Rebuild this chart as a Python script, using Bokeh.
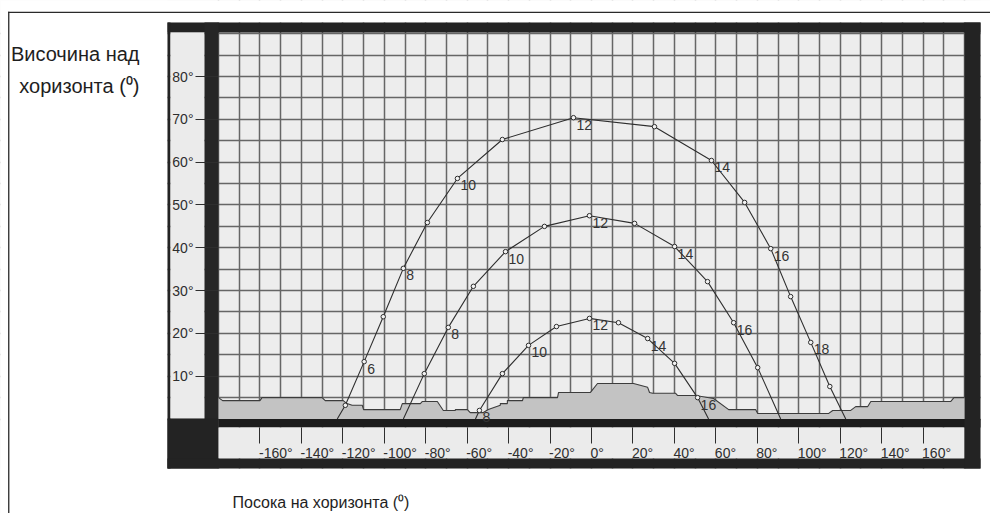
from bokeh.plotting import figure
from bokeh.models import Range1d, FixedTicker, BoxAnnotation, Label, LinearAxis, Grid
from bokeh.core.properties import value
from bokeh.embed import file_html
from bokeh.resources import INLINE

# ---------------- data ----------------
x_ticks = [-160, -140, -120, -100, -80, -60, -40, -20, 0, 20, 40, 60, 80, 100, 120, 140, 160]
x_tick_labels = ["-160°", "-140°", "-120°", "-100°", "-80°", "-60°", "-40°", "-20°", "0°",
                 "20°", "40°", "60°", "80°", "100°", "120°", "140°", "160°"]
y_ticks = [10, 20, 30, 40, 50, 60, 70, 80]
y_tick_labels = ["10°", "20°", "30°", "40°", "50°", "60°", "70°", "80°"]

y_title_lines = ["Височина над", "хоризонта (⁰)"]
x_title = "Посока на хоризонта (⁰)"

# summer solstice path (hour, azimuth, altitude)
summer_hours = [5, 6, 7, 8, 9, 10, 11, 12, 13, 14, 15, 16, 17, 18, 19]
summer_az = [-118.8, -109.7, -100.5, -90.8, -79.2, -64.7, -43.0, -8.7, 30.4, 57.9, 73.9, 86.5, 96.1, 105.8, 115.0]
summer_alt = [3.2, 13.4, 23.9, 35.2, 45.9, 56.2, 65.3, 70.4, 68.3, 60.4, 50.6, 39.8, 28.6, 17.9, 7.6]
summer_rise_set_az = [-122.7, 122.7]

# equinox path
equinox_hours = [7, 8, 9, 10, 11, 12, 13, 14, 15, 16, 17]
equinox_az = [-80.7, -69.1, -57.0, -41.5, -22.7, -1.0, 20.8, 40.1, 56.0, 68.6, 80.2]
equinox_alt = [10.6, 21.4, 31.0, 39.1, 45.0, 47.5, 45.7, 40.3, 32.1, 22.5, 12.0]
equinox_rise_set_az = [-90.8, 91.3]

# winter solstice path
winter_hours = [8, 9, 10, 11, 12, 13, 14, 15, 16]
winter_az = [-54.1, -43.0, -30.4, -16.9, -1.0, 13.0, 27.1, 40.1, 51.2]
winter_alt = [2.0, 10.6, 17.2, 21.6, 23.5, 22.5, 18.8, 13.0, 5.0]
winter_rise_set_az = [-56.0, 56.5]

# horizon profile
horizon_az = [-180, -178, -160, -159, -130, -128.5, -119.8, -118, -115.5, -110.6, -110, -92.3,
              -91.3, -82.6, -81.6, -74.4, -71.5, -65.7, -65.7, -59.9, -58.5, -52.2, -49.8, -44.0,
              -44.0, -40.6, -40.6, -33.3, -32.9, -16.4, -15.9, -0.5, 2.9, 20.3, 27.1, 28.0, 29.5,
              40.6, 41.5, 50.2, 58.9, 66.2, 79.2, 80.2, 114.5, 116.4, 125.1, 127.5, 133.3, 134.8,
              173.4, 174.9, 180]
horizon_alt = [5.0, 4.3, 4.3, 5.0, 5.0, 4.3, 4.3, 3.6, 3.2, 3.2, 2.2, 2.2,
               3.6, 3.6, 4.1, 4.1, 2.0, 2.0, 2.2, 2.2, 1.5, 1.5, 2.2, 3.2,
               3.6, 3.6, 4.3, 4.3, 5.0, 5.0, 6.2, 6.2, 8.3, 8.3, 7.4, 6.2, 6.0,
               6.0, 5.5, 5.5, 4.8, 2.2, 2.2, 1.3, 1.3, 2.0, 2.0, 2.9, 2.9, 4.1,
               4.1, 5.0, 5.0]

# ---------------- layout (canvas pixels) ----------------
W, H = 990, 513
PL, PR, PT, PB = 218, 964, 32, 418.5       # plot-area edges on the canvas
AZ0, AZ1, ALT0, ALT1 = -180, 180, 0, 90.3   # plot-area extent in data units
px = (PR - PL) / (AZ1 - AZ0)
py = (PB - PT) / (ALT1 - ALT0)
x_range = Range1d(AZ0 - PL / px, AZ1 + (W - PR) / px)
y_range = Range1d(ALT0 - (H - PB) / py, ALT1 + PT / py)

FONT = "Liberation Sans"
INK = "#2e2e2e"
LIGHT = "#ebebeb"

p = figure(width=W, height=H, output_backend="svg", toolbar_location=None, title=None,
           x_range=x_range, y_range=y_range, x_axis_location=None, y_axis_location=None,
           min_border=0, background_fill_color="#ededed", border_fill_color="white")
p.outline_line_color = None

# ---- axes (drawn at the plot-area edges) ----
def label_center(tick, text):
    char_w = {"-": 4.7, "°": 5.6}
    w = sum(char_w.get(c, 7.8) for c in text)
    return round(tick + (w / 2.0 - 1.0) / px, 3)

STRIP_TOP = 427
centers = [label_center(t, s) for t, s in zip(x_ticks, x_tick_labels)]
xa = LinearAxis(fixed_location=round(ALT0 - (STRIP_TOP - PB) / py, 4))
xa.ticker = FixedTicker(ticks=centers, minor_ticks=x_ticks)
xa.major_label_overrides = {c: s for c, s in zip(centers, x_tick_labels)}
xa.major_tick_out = 0
xa.major_tick_in = 0
xa.major_tick_line_color = None
xa.minor_tick_out = 16
xa.minor_tick_in = 0
xa.minor_tick_line_color = INK
xa.minor_tick_line_width = 1
xa.axis_line_color = None
xa.major_label_standoff = 1
xa.major_label_text_font = FONT
xa.major_label_text_font_size = "14px"
xa.major_label_text_color = INK
p.add_layout(xa, "below")

ya = LinearAxis(fixed_location=AZ0)
ya.ticker = FixedTicker(ticks=y_ticks, minor_ticks=[])
ya.major_label_overrides = {t: s for t, s in zip(y_ticks, y_tick_labels)}
ya.major_tick_out = 23
ya.major_tick_in = 0
ya.major_tick_line_color = INK
ya.axis_line_color = None
ya.major_label_standoff = 2
ya.major_label_text_font = FONT
ya.major_label_text_font_size = "14px"
ya.major_label_text_color = INK
p.add_layout(ya, "left")

# ---- grid: 10 deg azimuth, 5 deg altitude ----
xg = Grid(dimension=0, ticker=FixedTicker(ticks=list(range(-180, 181, 10))))
yg = Grid(dimension=1, ticker=FixedTicker(ticks=list(range(0, 91, 5))))
for g in (xg, yg):
    g.grid_line_color = "#666666"
    g.grid_line_width = 1.5
    g.grid_line_alpha = 1.0

# ---- panel masks (canvas units), drawn over the grid overflow ----
def cbox(l, r, t, b, color, level="underlay"):
    return BoxAnnotation(left=l, right=r, top=t, bottom=b,
                         left_units="canvas", right_units="canvas",
                         top_units="canvas", bottom_units="canvas",
                         fill_color=color, fill_alpha=1,
                         line_color=None, level=level)

DARK = "#232323"
masks = [
    cbox(-10, W + 10, -10, 22, "white"),
    cbox(-10, 167, -10, H + 10, "white"),
    cbox(980, W + 10, -10, H + 10, "white"),
    cbox(-10, W + 10, 468, H + 10, "white"),
    cbox(167, 980, 22, 32, DARK),
    cbox(167, 170, 22, 468, DARK),
    cbox(170, 204, 32, 418, LIGHT),
    cbox(204, 218, 22, 419, "#262626"),
    cbox(167, 218, 418, 468, DARK),
    cbox(218, 980, PB, STRIP_TOP, "#1c1c1c"),
    cbox(218, PR, STRIP_TOP, 458, LIGHT),
    cbox(167, 980, 458, 468, DARK),
    cbox(PR, 980, 22, 468, DARK),
]
outer_lines = [
    cbox(7.6, 8.9, 11.2, H + 10, "#2a2a2a", level="annotation"),
    cbox(7.6, W + 10, 11.2, 12.5, "#2a2a2a", level="annotation"),
]
p.center = [xg, yg] + masks + outer_lines

# ---- horizon ----
p.varea(x=horizon_az, y1=0, y2=horizon_alt, fill_color="#c3c3c3")
p.line(horizon_az, horizon_alt, line_color="#3c3c3c", line_width=1.1)

# ---- sun paths ----
def sun_path(hours, az, alt, rise_set):
    xs = [rise_set[0]] + az + [rise_set[1]]
    ys = [0] + alt + [0]
    p.line(xs, ys, line_color=INK, line_width=1.1)
    p.scatter(az, alt, size=4.5, marker="circle", line_color=INK, fill_color="#f2f2f2", line_width=1)
    lab_x = [a for h, a in zip(hours, az) if h % 2 == 0]
    lab_y = [b for h, b in zip(hours, alt) if h % 2 == 0]
    lab_t = [str(h) for h in hours if h % 2 == 0]
    p.text(x=lab_x, y=lab_y, text=lab_t, x_offset=3, y_offset=2,
           text_align="left", text_baseline="top", text_font=value(FONT),
           text_font_size="14px", text_color="#333333")

sun_path(summer_hours, summer_az, summer_alt, summer_rise_set_az)
sun_path(equinox_hours, equinox_az, equinox_alt, equinox_rise_set_az)
sun_path(winter_hours, winter_az, winter_alt, winter_rise_set_az)

# ---- titles ----
p.add_layout(Label(x=139, y=53, x_units="canvas", y_units="canvas", text=y_title_lines[0],
                   text_align="right", text_baseline="alphabetic", text_font=FONT,
                   text_font_size="20px", text_color="#1e1e1e"))
p.add_layout(Label(x=139, y=85, x_units="canvas", y_units="canvas", text=y_title_lines[1],
                   text_align="right", text_baseline="alphabetic", text_font=FONT,
                   text_font_size="20px", text_color="#1e1e1e"))
p.add_layout(Label(x=232, y=502, x_units="canvas", y_units="canvas", text=x_title,
                   text_align="left", text_baseline="alphabetic", text_font=FONT,
                   text_font_size="16px", text_color="#1e1e1e"))

open("out.html", "w").write(file_html(p, INLINE))
